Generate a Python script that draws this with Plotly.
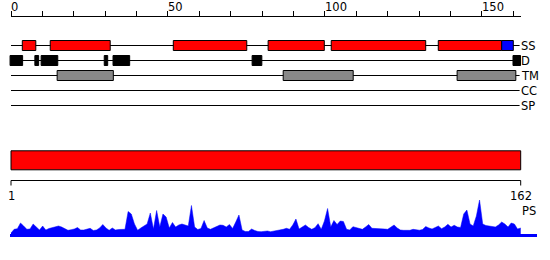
import plotly.graph_objects as go

# ---------------- data ----------------
SEQ_LEN = 162
TRACKS = ["SS", "D", "TM", "CC", "SP"]
HELIX_START = [3.6, 12.5, 51.7, 81.9, 102.0, 136.1]
HELIX_END = [7.9, 31.6, 75.1, 99.8, 132.1, 156.3]
STRAND_START = [156.3]
STRAND_END = [160.0]
DISORDER_START = [-0.3, 7.6, 9.6, 29.7, 32.5, 76.8, 159.9]
DISORDER_END = [3.7, 8.8, 14.9, 30.8, 37.8, 79.9, 162.3]
TM_START = [14.7, 86.7, 142.1]
TM_END = [32.6, 109.0, 160.8]
DOMAIN_START = [1]
DOMAIN_END = [162]
TOP_TICKS = list(range(0, 161, 10))
TOP_LABELS = [0, 50, 100, 150]
BOTTOM_TICKS = [1, 162]
PS = [
    3, 6.7, 7.3, 13, 10, 6.7, 7, 12, 9, 6,
    10, 6, 7.5, 8.3, 9, 10, 9, 7, 5.7, 6.3,
    7, 8.5, 6, 6, 6.7, 7.7, 5.5, 6, 8, 11.5,
    8, 5.7, 8, 6, 6.5, 6.5, 6.7, 24.5, 22, 12,
    5.7, 8, 10, 12, 23, 7, 25.5, 9, 22, 19,
    8, 13.5, 9, 11, 12, 11, 10, 30.5, 9, 6.5,
    7.5, 15.5, 8, 6.7, 8, 10, 11, 10.7, 9, 11.5,
    7.5, 14, 21, 6, 4.5, 4.5, 7, 5.5, 4.5, 4.3,
    4.5, 5, 4.3, 4.8, 5.3, 5.7, 6.7, 7.7, 6.7, 11,
    17, 7, 9, 11, 8.5, 6.7, 8.3, 12.3, 6.7, 15,
    27.5, 9, 15.5, 11.5, 15, 14.5, 6.7, 6, 9.3, 8.5,
    7.5, 6.7, 9, 11.5, 7.7, 7.7, 7.7, 7.7, 7, 6.7,
    8.5, 11, 8, 6, 5.7, 5.7, 5.7, 6.7, 6.3, 5.8,
    6.5, 9.5, 8, 7, 8.5, 10, 7.3, 9, 11.7, 9,
    10.7, 9, 8.5, 22, 26, 12, 10, 20, 36, 12,
    10.5, 10, 9, 9, 11, 14, 12, 9, 13, 12,
    7, 8,
]
RESIDUES = list(range(1, SEQ_LEN + 1))

# ---------------- layout geometry ----------------
W, H = 550, 260
X0 = 11.0
PX_TOP = 3.1394            # px per unit on the top ruler
PX_BOT = 509.7 / 161       # px per residue on the bottom ruler
ROW_Y = {"SS": 45.5, "D": 60.5, "TM": 75.5, "CC": 90.5, "SP": 105.5}
BOX_H = 5.0
RULER_Y = 180.5
TICK_LEN = 5
FONT = dict(family="DejaVu Sans", size=11.5, color="black")
BLACK_LINE = dict(color="black", width=1)

shapes = []
for t in TRACKS:
    shapes.append(dict(type="line", xref="x", yref="y", x0=0, x1=SEQ_LEN,
                       y0=ROW_Y[t], y1=ROW_Y[t], line=BLACK_LINE))

def boxes(starts, ends, row, color):
    for s, e in zip(starts, ends):
        shapes.append(dict(type="rect", xref="x", yref="y", x0=s, x1=e,
                           y0=ROW_Y[row] - BOX_H, y1=ROW_Y[row] + BOX_H,
                           fillcolor=color, line=BLACK_LINE))

boxes(HELIX_START, HELIX_END, "SS", "#ff0000")
boxes(STRAND_START, STRAND_END, "SS", "#0000ff")
boxes(DISORDER_START, DISORDER_END, "D", "#000000")
boxes(TM_START, TM_END, "TM", "#888888")

for s, e in zip(DOMAIN_START, DOMAIN_END):
    shapes.append(dict(type="rect", xref="x2", yref="y", x0=s, x1=e, y0=150.8, y1=169.8,
                       fillcolor="#ff0000", line=BLACK_LINE))

# bottom ruler (residue scale)
shapes.append(dict(type="line", xref="x2", yref="y", x0=BOTTOM_TICKS[0], x1=BOTTOM_TICKS[-1],
                   y0=RULER_Y, y1=RULER_Y, line=BLACK_LINE))
for v in BOTTOM_TICKS:
    shapes.append(dict(type="line", xref="x2", yref="y", x0=v, x1=v,
                       y0=RULER_Y, y1=RULER_Y + TICK_LEN, line=BLACK_LINE))

annotations = []
for t in TRACKS:
    annotations.append(dict(xref="x", yref="y", x=SEQ_LEN, y=ROW_Y[t], text=t,
                            showarrow=False, xanchor="left", yanchor="middle",
                            xshift=-1, font=FONT))
for v in TOP_LABELS:
    annotations.append(dict(xref="x3", yref="y", x=v, y=6.5, text=str(v),
                            showarrow=False, xanchor="left", yanchor="middle",
                            xshift=-2, font=FONT))
for v in BOTTOM_TICKS:
    annotations.append(dict(xref="x2", yref="y", x=v, y=195.5, text=str(v),
                            showarrow=False, xanchor="center", yanchor="middle",
                            font=FONT))
annotations.append(dict(xref="x2", yref="y", x=SEQ_LEN, y=211, text="PS",
                        showarrow=False, xanchor="left", yanchor="middle",
                        xshift=-1, font=FONT))

fig = go.Figure()
fig.add_trace(go.Scatter(x=RESIDUES, y=PS, mode="lines", fill="tozeroy",
                         line=dict(color="#0000ff", width=0.5), fillcolor="#0000ff",
                         xaxis="x2", yaxis="y2", hoverinfo="skip", showlegend=False))

x2_lo = 1 - (X0 - 10) / PX_BOT
x2_hi = 1 + (536.5 - X0) / PX_BOT

fig.update_layout(
    width=W, height=H, autosize=False,
    margin=dict(l=0, r=0, t=0, b=0, pad=0),
    paper_bgcolor="white", plot_bgcolor="rgba(0,0,0,0)",
    showlegend=False,
    xaxis=dict(domain=[0, 1], range=[-X0 / PX_TOP, (W - X0) / PX_TOP], visible=False, anchor="y"),
    yaxis=dict(domain=[0, 1], range=[H, 0], visible=False, anchor="x"),
    xaxis2=dict(domain=[10 / W, 536.5 / W], range=[x2_lo, x2_hi], anchor="y2",
                showline=True, linecolor="#0000ff", linewidth=2.5,
                showticklabels=False, ticks="", showgrid=False, zeroline=False),
    yaxis2=dict(domain=[1 - 234 / H, 1 - 196 / H], range=[2, 40], anchor="x2", visible=False),
    xaxis3=dict(domain=[X0 / W, 521 / W], range=[0, (521 - X0) / PX_TOP], anchor="free",
                position=1 - 15.5 / H, side="top", showline=True, linecolor="black", linewidth=1,
                ticks="outside", ticklen=5, tickwidth=1, tickcolor="black",
                tickmode="array", tickvals=TOP_TICKS, showticklabels=False,
                showgrid=False, zeroline=False),
    shapes=shapes,
    annotations=annotations,
)

fig.write_html("out.html")
